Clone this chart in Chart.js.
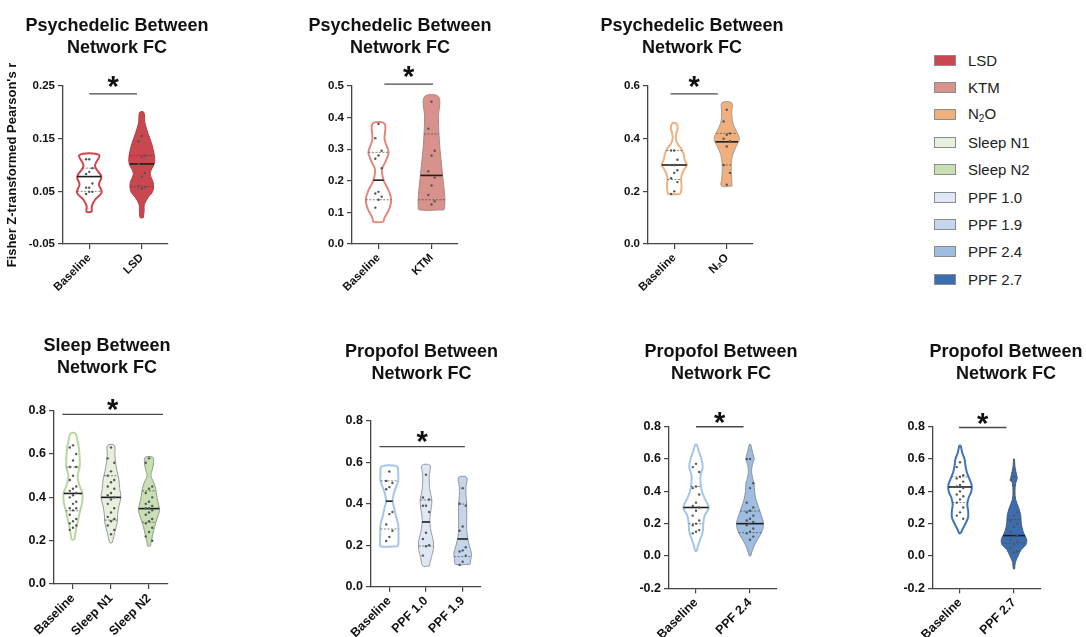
<!DOCTYPE html>
<html>
<head>
<meta charset="utf-8">
<script src="https://cdn.jsdelivr.net/npm/chart.js@4.4.0/dist/chart.umd.min.js"></script>
<style>
  html, body { margin: 0; padding: 0; background: #fff; width: 1086px; height: 637px; overflow: hidden; }
  canvas { position: absolute; }
  .row { position: absolute; left: 934px; height: 20px; display: flex; align-items: center; white-space: nowrap;
         font: 15px 'Liberation Sans', Arial, sans-serif; color: #222; }
  .box { width: 20px; height: 9px; border: 1px solid #8c8c8c; margin-right: 12px; }
  .row sub { font-size: 10px; vertical-align: -3px; }
</style>
</head>
<body>
<script>
// ---------- data ----------
// each violin: levels (y, bottom -> top), half widths (in category units), dots, [q1, median, q3]

// LSD panel
const lsdCats = ['Baseline', 'LSD'];
const lsdTicks = [-0.05, 0.05, 0.15, 0.25];
const lsdSig = [0, 0.91, 0.235];
const lsdBaseLevels = [0.011, 0.022, 0.034, 0.048, 0.063, 0.078, 0.098, 0.119];
const lsdBaseWidths = [0.05, 0.05, 0.11, 0.235, 0.185, 0.23, 0.11, 0.19];
const lsdBaseDots = [0.111, 0.111, 0.094, 0.087, 0.083, 0.065, 0.057, 0.057, 0.049, 0.049, 0.045];
const lsdBaseBox = [0.05, 0.078, 0.094];
const lsdDrugLevels = [0.0, 0.012, 0.025, 0.038, 0.05, 0.066, 0.084, 0.103, 0.118, 0.14, 0.16, 0.18, 0.2];
const lsdDrugWidths = [0.03, 0.045, 0.05, 0.12, 0.21, 0.22, 0.16, 0.24, 0.24, 0.19, 0.12, 0.06, 0.04];
const lsdDrugDots = [0.155, 0.145, 0.118, 0.115, 0.102, 0.085, 0.078, 0.06, 0.058, 0.055];
const lsdDrugBox = [0.059, 0.102, 0.118];

// KTM panel
const ktmCats = ['Baseline', 'KTM'];
const ktmTicks = [0.0, 0.1, 0.2, 0.3, 0.4, 0.5];
const ktmSig = [0.11, 1.03, 0.506];
const ktmBaseLevels = [0.07, 0.085, 0.11, 0.14, 0.17, 0.2, 0.235, 0.26, 0.29, 0.33, 0.38];
const ktmBaseWidths = [0.09, 0.12, 0.2, 0.24, 0.19, 0.1, 0.065, 0.13, 0.19, 0.115, 0.115];
const ktmBaseDots = [0.38, 0.335, 0.295, 0.28, 0.27, 0.24, 0.165, 0.16, 0.15, 0.14, 0.115];
const ktmBaseBox = [0.14, 0.202, 0.29];
const ktmDrugLevels = [0.108, 0.12, 0.15, 0.2, 0.25, 0.3, 0.35, 0.4, 0.466];
const ktmDrugWidths = [0.235, 0.25, 0.25, 0.22, 0.19, 0.16, 0.14, 0.13, 0.135];
const ktmDrugDots = [0.45, 0.365, 0.295, 0.28, 0.23, 0.21, 0.185, 0.155, 0.135, 0.125];
const ktmDrugBox = [0.14, 0.217, 0.348];

// N2O panel
const n2oCats = ['Baseline', 'N₂O'];
const n2oTicks = [0.0, 0.2, 0.4, 0.6];
const n2oSig = [-0.07, 0.83, 0.57];
const n2oBaseLevels = [0.19, 0.2, 0.22, 0.245, 0.26, 0.28, 0.3, 0.32, 0.34, 0.36, 0.38, 0.4, 0.42, 0.44, 0.458];
const n2oBaseWidths = [0.115, 0.13, 0.14, 0.13, 0.14, 0.18, 0.24, 0.2, 0.18, 0.14, 0.065, 0.03, 0.04, 0.065, 0.04];
const n2oBaseDots = [0.355, 0.355, 0.32, 0.3, 0.3, 0.28, 0.27, 0.25, 0.235, 0.2, 0.19];
const n2oBaseBox = [0.245, 0.3, 0.355];
const n2oDrugLevels = [0.22, 0.25, 0.28, 0.31, 0.34, 0.37, 0.4, 0.43, 0.46, 0.5, 0.536];
const n2oDrugWidths = [0.1, 0.095, 0.085, 0.09, 0.115, 0.18, 0.24, 0.18, 0.115, 0.095, 0.095];
const n2oDrugDots = [0.51, 0.465, 0.42, 0.415, 0.4, 0.39, 0.37, 0.3, 0.27, 0.225];
const n2oDrugBox = [0.3, 0.388, 0.42];

// Sleep panel
const sleepCats = ['Baseline', 'Sleep N1', 'Sleep N2'];
const sleepTicks = [0.0, 0.2, 0.4, 0.6, 0.8];
const sleepSig = [-0.28, 2.37, 0.783];
const sleepBaseLevels = [0.205, 0.22, 0.26, 0.3, 0.34, 0.38, 0.42, 0.46, 0.5, 0.54, 0.58, 0.62, 0.66, 0.695];
const sleepBaseWidths = [0.035, 0.05, 0.09, 0.14, 0.19, 0.245, 0.245, 0.16, 0.12, 0.175, 0.175, 0.16, 0.12, 0.06];
const sleepBaseDots = [0.64, 0.63, 0.6, 0.57, 0.54, 0.54, 0.5, 0.48, 0.45, 0.44, 0.43, 0.42, 0.41, 0.4, 0.38, 0.37, 0.35, 0.35, 0.34, 0.32, 0.3, 0.29, 0.28, 0.27, 0.26, 0.25];
const sleepBaseBox = [0.338, 0.418, 0.54];
const sleepN1Levels = [0.19, 0.2, 0.24, 0.28, 0.32, 0.36, 0.4, 0.44, 0.48, 0.52, 0.56, 0.6, 0.64];
const sleepN1Widths = [0.03, 0.05, 0.1, 0.16, 0.175, 0.21, 0.26, 0.23, 0.21, 0.16, 0.12, 0.1, 0.09];
const sleepN1Dots = [0.63, 0.58, 0.56, 0.52, 0.5, 0.48, 0.47, 0.45, 0.44, 0.42, 0.41, 0.4, 0.39, 0.37, 0.35, 0.33, 0.31, 0.3, 0.29, 0.27, 0.25, 0.23];
const sleepN1Box = [0.295, 0.4, 0.5];
const sleepN2Levels = [0.175, 0.19, 0.22, 0.26, 0.3, 0.34, 0.36, 0.4, 0.44, 0.47, 0.5, 0.53, 0.56, 0.585];
const sleepN2Widths = [0.04, 0.05, 0.09, 0.14, 0.21, 0.28, 0.26, 0.21, 0.175, 0.12, 0.05, 0.09, 0.12, 0.1];
const sleepN2Dots = [0.58, 0.56, 0.45, 0.44, 0.42, 0.4, 0.38, 0.37, 0.36, 0.35, 0.35, 0.34, 0.33, 0.32, 0.3, 0.29, 0.28, 0.26, 0.24, 0.22, 0.2];
const sleepN2Box = [0.285, 0.348, 0.43];

// Propofol panel (1.0 / 1.9)
const ppfLowCats = ['Baseline', 'PPF 1.0', 'PPF 1.9'];
const ppfLowTicks = [0.0, 0.2, 0.4, 0.6, 0.8];
const ppfLowSig = [-0.27, 2.06, 0.675];
const ppfLowBaseLevels = [0.195, 0.22, 0.26, 0.3, 0.34, 0.38, 0.41, 0.44, 0.47, 0.51, 0.55, 0.58];
const ppfLowBaseWidths = [0.24, 0.25, 0.25, 0.24, 0.18, 0.13, 0.09, 0.11, 0.16, 0.24, 0.24, 0.21];
const ppfLowBaseDots = [0.555, 0.51, 0.5, 0.48, 0.47, 0.36, 0.35, 0.3, 0.27, 0.24, 0.22];
const ppfLowBaseBox = [0.278, 0.412, 0.51];
const ppf10Levels = [0.1, 0.14, 0.18, 0.22, 0.26, 0.3, 0.34, 0.38, 0.42, 0.46, 0.5, 0.54, 0.585];
const ppf10Widths = [0.09, 0.145, 0.2, 0.2, 0.145, 0.11, 0.11, 0.145, 0.16, 0.11, 0.09, 0.09, 0.11];
const ppf10Dots = [0.54, 0.43, 0.42, 0.39, 0.39, 0.36, 0.26, 0.23, 0.2, 0.195, 0.15];
const ppf10Box = [0.196, 0.312, 0.418];
const ppf19Levels = [0.108, 0.13, 0.16, 0.2, 0.24, 0.28, 0.32, 0.36, 0.4, 0.44, 0.48, 0.527];
const ppf19Widths = [0.2, 0.22, 0.24, 0.18, 0.13, 0.11, 0.11, 0.11, 0.11, 0.09, 0.09, 0.11];
const ppf19Dots = [0.475, 0.4, 0.39, 0.29, 0.27, 0.19, 0.175, 0.17, 0.15, 0.12, 0.105];
const ppf19Box = [0.145, 0.23, 0.398];

// Propofol panel (2.4)
const ppf24Cats = ['Baseline', 'PPF 2.4'];
const ppfHighTicks = [-0.2, 0.0, 0.2, 0.4, 0.6, 0.8];
const ppf24Sig = [0, 0.88, 0.8];
const ppf24BaseLevels = [0.03, 0.06, 0.1, 0.15, 0.2, 0.25, 0.3, 0.35, 0.4, 0.45, 0.5, 0.55, 0.6, 0.65, 0.69];
const ppf24BaseWidths = [0.012, 0.035, 0.075, 0.125, 0.135, 0.16, 0.235, 0.17, 0.11, 0.085, 0.085, 0.125, 0.1, 0.05, 0.012];
const ppf24BaseDots = [0.57, 0.55, 0.52, 0.43, 0.42, 0.38, 0.33, 0.31, 0.3, 0.28, 0.25, 0.22, 0.2, 0.19, 0.16, 0.15, 0.14];
const ppf24BaseBox = [0.2, 0.3, 0.43];
const ppf24Levels = [0.0, 0.05, 0.1, 0.15, 0.2, 0.25, 0.3, 0.35, 0.4, 0.45, 0.48, 0.52, 0.56, 0.6, 0.65, 0.69];
const ppf24Widths = [0.012, 0.06, 0.135, 0.22, 0.25, 0.21, 0.16, 0.11, 0.085, 0.075, 0.05, 0.03, 0.04, 0.075, 0.04, 0.012];
const ppf24Dots = [0.6, 0.6, 0.45, 0.42, 0.33, 0.3, 0.28, 0.27, 0.25, 0.23, 0.22, 0.21, 0.2, 0.19, 0.17, 0.15, 0.14, 0.12, 0.1];
const ppf24Box = [0.145, 0.2, 0.278];

// Propofol panel (2.7)
const ppf27Cats = ['Baseline', 'PPF 2.7'];
const ppf27Sig = [-0.02, 0.86, 0.795];
const ppf27BaseLevels = [0.14, 0.16, 0.2, 0.24, 0.28, 0.32, 0.36, 0.4, 0.44, 0.48, 0.52, 0.56, 0.6, 0.64, 0.682];
const ppf27BaseWidths = [0.012, 0.04, 0.1, 0.15, 0.15, 0.135, 0.16, 0.21, 0.215, 0.17, 0.125, 0.1, 0.085, 0.04, 0.012];
const ppf27BaseDots = [0.58, 0.55, 0.5, 0.49, 0.48, 0.46, 0.44, 0.43, 0.42, 0.4, 0.38, 0.37, 0.35, 0.33, 0.3, 0.27, 0.25, 0.23];
const ppf27BaseBox = [0.33, 0.427, 0.49];
const ppf27Levels = [-0.08, -0.04, 0.0, 0.04, 0.07, 0.1, 0.15, 0.2, 0.25, 0.3, 0.35, 0.4, 0.45, 0.48, 0.5, 0.55, 0.6];
const ppf27Widths = [0.012, 0.025, 0.075, 0.135, 0.22, 0.235, 0.17, 0.135, 0.125, 0.085, 0.03, 0.018, 0.03, 0.06, 0.05, 0.018, 0.008];
const ppf27Dots = [0.49, 0.47, 0.27, 0.25, 0.22, 0.2, 0.18, 0.15, 0.13, 0.12, 0.1, 0.09, 0.07, 0.05, 0.03, 0.02];
const ppf27Box = [0.08, 0.126, 0.225];

// legend
const legendLabels = ['LSD', 'KTM', 'N₂O', 'Sleep N1', 'Sleep N2', 'PPF 1.0', 'PPF 1.9', 'PPF 2.4', 'PPF 2.7'];
const legendColors = ['#c9474f', '#d9918c', '#efb07e', '#e6f0dc', '#c7dfb3', '#dfe6f4', '#c4d5ec', '#9ebde1', '#3b6db1'];

// ---------- styles / layout ----------
const FONT = "'Liberation Sans', Arial, Helvetica, sans-serif";
Chart.defaults.font.family = FONT;
Chart.defaults.color = '#111';

const titleLines = {
  psy: ['Psychedelic Between', 'Network FC'],
  sleep: ['Sleep Between', 'Network FC'],
  ppf: ['Propofol Between', 'Network FC']
};

const panels = [
  { title: titleLines.psy, cats: lsdCats, ticks: lsdTicks, dec: 2, sig: lsdSig, lift: 15, fs: 11.5,
    yTitle: "Fisher Z-transformed Pearson's r",
    frame: { left: 63, right: 168, top: 86, bottom: 244, titleX: 117, titleTop: 15, axisW: 63 },
    violins: [
      { levels: lsdBaseLevels, widths: lsdBaseWidths, dots: lsdBaseDots, box: lsdBaseBox, fill: '#ffffff', line: '#d4444d', lw: 2 },
      { levels: lsdDrugLevels, widths: lsdDrugWidths, dots: lsdDrugDots, box: lsdDrugBox, fill: '#c9474f', line: '#b23d45', lw: 1 }
    ] },
  { title: titleLines.psy, cats: ktmCats, ticks: ktmTicks, dec: 1, sig: ktmSig, lift: 15, fs: 11.5,
    frame: { left: 352, right: 458, top: 86, bottom: 244, titleX: 400, titleTop: 15, axisW: 50 },
    violins: [
      { levels: ktmBaseLevels, widths: ktmBaseWidths, dots: ktmBaseDots, box: ktmBaseBox, fill: '#ffffff', line: '#e3877d', lw: 2 },
      { levels: ktmDrugLevels, widths: ktmDrugWidths, dots: ktmDrugDots, box: ktmDrugBox, fill: '#d9918c', line: '#a88884', lw: 1 }
    ] },
  { title: titleLines.psy, cats: n2oCats, ticks: n2oTicks, dec: 1, sig: n2oSig, lift: 15, fs: 11.5,
    frame: { left: 648, right: 753, top: 86, bottom: 244, titleX: 692, titleTop: 15, axisW: 50 },
    violins: [
      { levels: n2oBaseLevels, widths: n2oBaseWidths, dots: n2oBaseDots, box: n2oBaseBox, fill: '#ffffff', line: '#f2b07c', lw: 2 },
      { levels: n2oDrugLevels, widths: n2oDrugWidths, dots: n2oDrugDots, box: n2oDrugBox, fill: '#efb07e', line: '#a89a8e', lw: 1 }
    ] },
  { title: titleLines.sleep, cats: sleepCats, ticks: sleepTicks, dec: 1, sig: sleepSig, lift: 12, fs: 12.5,
    frame: { left: 54, right: 168, top: 410.7, bottom: 584, titleX: 107, titleTop: 335, axisW: 50 },
    violins: [
      { levels: sleepBaseLevels, widths: sleepBaseWidths, dots: sleepBaseDots, box: sleepBaseBox, fill: '#ffffff', line: '#b6d89c', lw: 2 },
      { levels: sleepN1Levels, widths: sleepN1Widths, dots: sleepN1Dots, box: sleepN1Box, fill: '#e6f0dc', line: '#9a9a9a', lw: 1 },
      { levels: sleepN2Levels, widths: sleepN2Widths, dots: sleepN2Dots, box: sleepN2Box, fill: '#c7dfb3', line: '#8f9a88', lw: 1 }
    ] },
  { title: titleLines.ppf, cats: ppfLowCats, ticks: ppfLowTicks, dec: 1, sig: ppfLowSig, lift: 13, fs: 12.5,
    frame: { left: 371, right: 481, top: 420.7, bottom: 586.7, titleX: 421.7, titleTop: 340.5, axisW: 50 },
    violins: [
      { levels: ppfLowBaseLevels, widths: ppfLowBaseWidths, dots: ppfLowBaseDots, box: ppfLowBaseBox, fill: '#ffffff', line: '#a5c6ea', lw: 2 },
      { levels: ppf10Levels, widths: ppf10Widths, dots: ppf10Dots, box: ppf10Box, fill: '#dfe6f4', line: '#9a9ca4', lw: 1 },
      { levels: ppf19Levels, widths: ppf19Widths, dots: ppf19Dots, box: ppf19Box, fill: '#c4d5ec', line: '#8e96a4', lw: 1 }
    ] },
  { title: titleLines.ppf, cats: ppf24Cats, ticks: ppfHighTicks, dec: 1, sig: ppf24Sig, lift: 12, fs: 12.5,
    frame: { left: 669, right: 777, top: 426.7, bottom: 588.3, titleX: 721, titleTop: 340.5, axisW: 50 },
    violins: [
      { levels: ppf24BaseLevels, widths: ppf24BaseWidths, dots: ppf24BaseDots, box: ppf24BaseBox, fill: '#ffffff', line: '#a5c6ea', lw: 2 },
      { levels: ppf24Levels, widths: ppf24Widths, dots: ppf24Dots, box: ppf24Box, fill: '#9ebde1', line: '#8a93a0', lw: 1 }
    ] },
  { title: titleLines.ppf, cats: ppf27Cats, ticks: ppfHighTicks, dec: 1, sig: ppf27Sig, lift: 12, fs: 12.5,
    frame: { left: 933, right: 1041, top: 426.7, bottom: 588.3, titleX: 1006, titleTop: 340.5, axisW: 50 },
    violins: [
      { levels: ppf27BaseLevels, widths: ppf27BaseWidths, dots: ppf27BaseDots, box: ppf27BaseBox, fill: '#ffffff', line: '#3f74b9', lw: 2 },
      { levels: ppf27Levels, widths: ppf27Widths, dots: ppf27Dots, box: ppf27Box, fill: '#3b6db1', line: '#4a5a72', lw: 1 }
    ] }
];

// asterisk over the significance bar
const sigStar = {
  id: 'sigStar',
  afterDatasetsDraw(chart, args, opts) {
    if (!opts.bar) return;
    const { ctx, scales } = chart;
    const px = scales.x.getPixelForValue((opts.bar[0] + opts.bar[1]) / 2);
    const py = scales.y.getPixelForValue(opts.bar[2]);
    ctx.save();
    ctx.font = 'bold 29px ' + FONT;
    ctx.fillStyle = '#111';
    ctx.textAlign = 'center';
    ctx.textBaseline = 'alphabetic';
    ctx.fillText('*', px, py - opts.lift + 17);
    ctx.restore();
  }
};
Chart.register(sigStar);

function widthAt(levels, widths, y) {
  for (let i = 1; i < levels.length; i++) {
    if (y <= levels[i]) {
      const t = (y - levels[i - 1]) / (levels[i] - levels[i - 1]);
      return widths[i - 1] + t * (widths[i] - widths[i - 1]);
    }
  }
  return widths[widths.length - 1];
}

function buildDatasets(p) {
  const sets = [];
  const spread = p.cats.length > 2 ? 0.085 : 0.06;
  p.violins.forEach((v, c) => {
    const right = v.levels.map((y, i) => ({ x: c + v.widths[i], y }));
    const left = v.levels.map((y, i) => ({ x: c - v.widths[i], y })).reverse();
    sets.push({
      data: right.concat(left, [right[0]]),
      borderColor: v.line, borderWidth: v.lw, backgroundColor: v.fill,
      fill: 'shape', tension: 0.35, pointRadius: 0, order: 3
    });
    v.box.forEach((q, k) => {
      const w = widthAt(v.levels, v.widths, q);
      sets.push({
        data: [{ x: c - w, y: q }, { x: c + w, y: q }],
        borderColor: k === 1 ? '#1e1e1e' : 'rgba(70,70,70,0.75)',
        borderWidth: k === 1 ? 1.6 : 0.9,
        borderDash: k === 1 ? [] : [2, 1.5],
        pointRadius: 0, fill: false, order: 1
      });
    });
    sets.push({
      data: v.dots.map((y, i) => ({ x: c + [0, -1, 1][i % 3] * spread, y })),
      showLine: false, pointRadius: 1.2, pointBorderWidth: 0,
      pointBackgroundColor: '#555', order: 0
    });
  });
  sets.push({
    data: [{ x: p.sig[0], y: p.sig[2] }, { x: p.sig[1], y: p.sig[2] }],
    borderColor: '#4a4a4a', borderWidth: 1.4, pointRadius: 0, fill: false, order: 1
  });
  return sets;
}

const TITLE_SIZE = 18, TITLE_LH = 1.22, X_AXIS_H = 75;

panels.forEach(p => {
  const f = p.frame;
  const cx = Math.round(f.left - f.axisW);
  const cy = Math.round(f.titleTop);
  const cw = Math.round(2 * (f.titleX - cx));
  const ch = Math.round(f.bottom - cy + X_AXIS_H);
  const axisW = f.left - cx;
  const padRight = cw - (f.right - cx);
  const padBottom = f.top - cy - 2 * TITLE_SIZE * TITLE_LH;
  const xAxisH = ch - (f.bottom - cy);

  const cv = document.createElement('canvas');
  cv.width = cw; cv.height = ch;
  cv.style.left = cx + 'px'; cv.style.top = cy + 'px';
  document.body.appendChild(cv);

  const axisGrid = { drawOnChartArea: false, drawTicks: true, tickLength: 5, color: '#444', lineWidth: 1.2 };
  const axisBorder = { display: true, color: '#444', width: 1.3 };
  const tickFont = { size: p.fs, weight: 'bold' };

  new Chart(cv, {
    type: 'line',
    data: { datasets: buildDatasets(p) },
    options: {
      responsive: false, animation: false, events: [],
      devicePixelRatio: 1,
      layout: { padding: 0 },
      datasets: { line: { clip: false } },
      plugins: {
        legend: { display: false },
        tooltip: { enabled: false },
        title: {
          display: true, text: p.title, color: '#111', fullSize: true,
          font: { size: TITLE_SIZE, weight: 'bold', lineHeight: TITLE_LH },
          padding: { top: 0, bottom: padBottom }
        },
        sigStar: { bar: p.sig, lift: p.lift }
      },
      scales: {
        x: {
          type: 'linear', min: -0.5, max: p.cats.length - 0.5,
          afterBuildTicks: s => { s.ticks = p.cats.map((_, i) => ({ value: i })); },
          afterFit: s => { s.height = xAxisH; },
          ticks: {
            autoSkip: false, minRotation: 45, maxRotation: 45, padding: 2,
            font: tickFont, color: '#111',
            callback: v => p.cats[v]
          },
          grid: axisGrid, border: axisBorder
        },
        y: {
          type: 'linear', min: p.ticks[0], max: p.ticks[p.ticks.length - 1],
          afterBuildTicks: s => { s.ticks = p.ticks.map(v => ({ value: v })); },
          afterFit: s => { s.width = axisW; },
          ticks: { padding: 3, font: tickFont, color: '#111', callback: v => v.toFixed(p.dec) },
          grid: axisGrid, border: axisBorder,
          title: {
            display: !!p.yTitle, text: p.yTitle || '', color: '#111',
            font: { size: 13, weight: 'bold' }, padding: { top: 5, bottom: 0 }
          }
        },
        pad: {
          type: 'linear', position: 'right', display: true,
          grid: { display: false }, border: { display: false }, ticks: { display: false },
          afterFit: s => { s.width = padRight; }
        }
      }
    }
  });
});

// legend on the right
legendLabels.forEach((label, i) => {
  const row = document.createElement('div');
  row.className = 'row';
  row.style.top = (60 + i * 27.4 - 10) + 'px';
  const box = document.createElement('span');
  box.className = 'box';
  box.style.background = legendColors[i];
  const txt = document.createElement('span');
  txt.innerHTML = label.replace('₂', '<sub>2</sub>');
  row.appendChild(box);
  row.appendChild(txt);
  document.body.appendChild(row);
});
</script>
</body>
</html>
